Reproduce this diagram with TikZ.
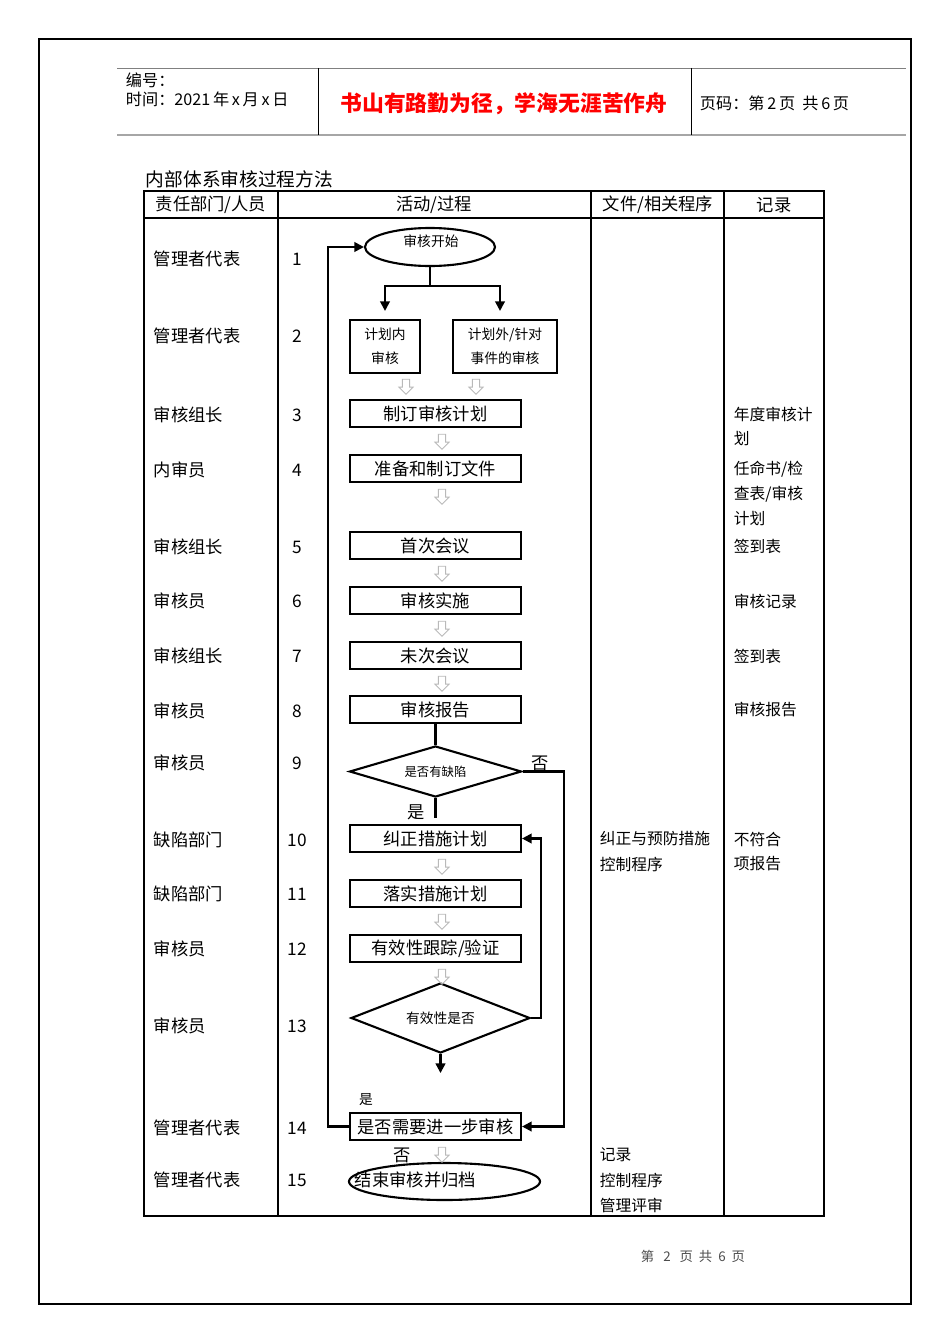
\documentclass[tikz,border=0pt]{standalone}
\usepackage{fontspec}
\setmainfont{Noto Sans CJK SC}
\usetikzlibrary{shapes.geometric,shapes.arrows,arrows.meta}
\newcommand\fmain{\fontsize{12.3}{15}\selectfont}
\newcommand\fnote{\fontsize{11.2}{14}\selectfont}
\newcommand\fsmall{\fontsize{9.8}{17}\selectfont}
\newcommand\ftiny{\fontsize{8.8}{11}\selectfont}
\newcommand\fhead{\fontsize{11.5}{14}\selectfont}
\newcommand\fred{\fontsize{15.5}{18}\selectfont\bfseries}

\begin{document}
\begin{tikzpicture}[x=0.25mm,y=-0.25mm,>={Triangle[length=2.4mm,width=2.4mm]},
  box/.style={draw,line width=1.5pt,minimum width=42.75mm,minimum height=6.75mm,inner sep=0pt,font=\fmain},
  smallbox/.style={draw,line width=1.5pt,minimum height=13.25mm,inner sep=0pt,align=center,font=\fsmall},
  decide/.style={draw,diamond,line width=1.5pt,shape aspect=3.4,inner sep=0pt},
  hollow/.style={draw=gray!55,single arrow,shape border rotate=270,minimum height=3.75mm,single arrow head extend=0.9mm,inner sep=0.8mm,line width=0.6pt},
  flow/.style={line width=1.5pt}]
\useasboundingbox (0,0) rectangle (950,1344);
\draw[line width=1.7pt](39,39) rectangle (911,1304);
\draw[gray,line width=0.6pt](117,68)--(906,68);
\draw[gray!70,line width=1.6pt](117,135)--(906,135);
\draw[line width=0.6pt](318,68)--(318,135) (691,68)--(691,135);
\node[anchor=west,font=\fhead](num) at (121,80){编号：};
\node[anchor=west,font=\fhead](date) at (121,99){时间：2021\,年\,x\,月\,x\,日};
\node[font=\fred,text=red](motto) at (504,104){书山有路勤为径，学海无涯苦作舟};
\node[anchor=west,font=\fhead](page) at (695,103){页码：第\,2\,页\ \ 共\,6\,页};

\node[anchor=west,font=\fontsize{13.3}{15}\selectfont](title) at (141,179){内部体系审核过程方法};
\draw[line width=1.5pt](144,191) rectangle (824,1216);
\draw[line width=1.5pt](144,218)--(824,218) (278,191)--(278,1216) (591,191)--(591,1216) (724,191)--(724,1216);
\node[font=\fmain](h1) at (211,205){责任部门/人员};
\node[font=\fmain](h2) at (434,205){活动/过程};
\node[font=\fmain](h3) at (658,205){文件/相关程序};
\node[font=\fmain](h4) at (774,205){记录};

\foreach \n/\who/\y in {1/管理者代表/259,2/管理者代表/336,3/审核组长/415,4/内审员/470,5/审核组长/547,6/审核员/601,7/审核组长/656,8/审核员/711,9/审核员/763,10/缺陷部门/840,11/缺陷部门/894,12/审核员/949,13/审核员/1026,14/管理者代表/1128,15/管理者代表/1180}{
  \node[anchor=west,font=\fmain](who\n) at (149,\y){\who};
  \node[font=\fmain](no\n) at (297,\y){\n};
}
\foreach \y/\t in {839/纠正与预防措施,864/控制程序,1155/记录,1180/控制程序,1205/管理评审}
  \node[anchor=west,font=\fnote](doc\y) at (595,\y){\t};
\foreach \y/\t in {414/年度审核计,439/划,469/{任命书/检},494/{查表/审核},519/计划,546/签到表,601/审核记录,656/签到表,710/审核报告,839/不符合,864/项报告}
  \node[anchor=west,font=\fnote](rec\y) at (729,\y){\t};

\node[draw,ellipse,line width=1.5pt,minimum width=32.5mm,minimum height=9.5mm,inner sep=0pt](start) at (430,247){};
\node[font=\fsmall](starttxt) at (431,241){审核开始};
\node[smallbox,minimum width=17.5mm](in) at (385,346.5){计划内\\审核};
\node[smallbox,minimum width=26mm](out) at (505,346.5){计划外/针对\\事件的审核};
\draw[flow](start.south)--++(0,19) coordinate(fork);
\draw[flow,->,shorten >=2mm](fork)-|(in.north);
\draw[flow,->,shorten >=2mm](fork)-|([xshift=-1.25mm]out.north);

\node[box](plan) at (435.5,413.5){制订审核计划};
\node[box](prep) at (435.5,468.5){准备和制订文件};
\node[box](first) at (435.5,545.5){首次会议};
\node[box](exec) at (435.5,600.5){审核实施};
\node[box](last) at (435.5,655.5){未次会议};
\node[box](report) at (435.5,709.5){审核报告};
\node[decide,minimum width=43mm,minimum height=12.75mm,font=\ftiny](d9) at (435.5,771.5){是否有缺陷};
\node[box](fix) at (435.5,838.5){纠正措施计划};
\node[box](act) at (435.5,893.5){落实措施计划};
\node[box](track) at (435.5,948.5){有效性跟踪/验证};
\node[decide,minimum width=44.75mm,minimum height=17.5mm,font=\fsmall](d13) at (440.5,1018){有效性是否};
\node[box](more) at (435.5,1126.5){是否需要进一步审核};
\node[draw,ellipse,line width=1.5pt,minimum width=47.75mm,minimum height=9.25mm,inner sep=0pt](stop) at (444.5,1181.5){};
\node[anchor=west,font=\fmain](stoptxt) at (350,1180){结束审核并归档};

\foreach \x/\y in {406/385,476/385,442/440,442/495,442/572,442/627,442/682,442/865,442/920,442/975,442/1153}
  \node[hollow](ha\x\y) at (\x,\y){};

\draw[flow](report.south)--(d9.north);
\draw[flow,shorten >=1.5mm](d9.south)--(fix.north);
\draw[flow,->](d9.east)--++(41,0)|-(more.east);
\draw[flow,->](d13.east)--++(10,0)|-(fix.east);
\draw[flow,->](d13.south)--++(0,19);
\draw[flow,->](more.west)--++(-21,0)|-(start.west);
\node[font=\fmain](no9) at (540,763){否};
\node[font=\fmain](yes9) at (416,812){是};
\node[font=\fsmall](yes14) at (366,1100){是};
\node[font=\fmain](no14) at (402,1155){否};

\node[font=\fontsize{9.5}{11}\selectfont,text=gray!60!black](foot) at (693,1256){第\ \ \ 2\ \ \ 页\ \ 共\ \ 6\ \ 页};
\end{tikzpicture}
\end{document}
